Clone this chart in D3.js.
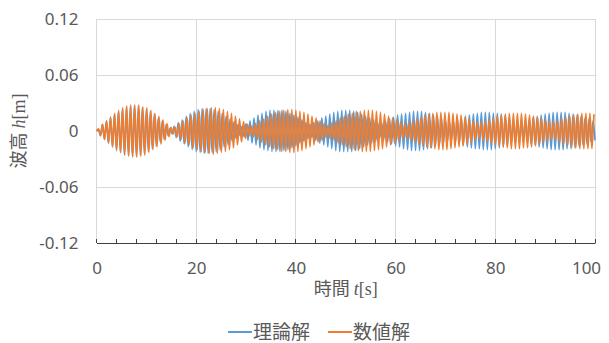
<!DOCTYPE html>
<html>
<head>
<meta charset="utf-8">
<script src="https://cdn.jsdelivr.net/npm/d3@7/dist/d3.min.js"></script>
<style>
  body { margin: 0; background: #fff; }
  svg { display: block; }
</style>
</head>
<body>
<svg id="chart" width="609" height="343"></svg>
<script>
// Wave height h [m] at successive crests and troughs (starting from rest at t = 0)
const seriesNames = ["理論解", "数値解"];
const seriesColors = ["#5B9BD5", "#ED7D31"];

// time between successive extremes [s]
const theoryStep = 0.4;
const numericStep = 0.404;

// 理論解 (theoretical solution)
const theoryH = [0,
  .002,-.005,.007,-.009,.011,-.013,.015,-.017,.018,-.020,.021,-.023,.024,-.025,.026,-.026,.027,-.027,.027,-.027,.027,-.026,.025,-.024,.023,-.022,.021,-.019,.018,-.016,.014,-.012,.011,-.009,.007,-.005,.003,
  -.003,.005,-.007,.009,-.011,.012,-.014,.016,-.017,.019,-.020,.021,-.022,.023,-.023,.024,-.024,.024,-.024,.024,-.023,.023,-.022,.021,-.020,.019,-.017,.016,-.015,.013,-.011,.010,-.008,.007,-.005,
  .005,-.006,.008,-.010,.011,-.013,.014,-.015,.017,-.018,.019,-.020,.021,-.021,.022,-.022,.022,-.022,.022,-.022,.022,-.021,.021,-.020,.019,-.018,.017,-.016,.015,-.013,.012,-.011,.009,-.008,.007,
  -.007,.009,-.010,.011,-.013,.014,-.015,.016,-.017,.018,-.019,.020,-.021,.021,-.022,.022,-.022,.022,-.022,.022,-.022,.021,-.021,.020,-.019,.018,-.017,.016,-.015,.014,-.013,.012,-.011,.009,-.008,
  .009,-.010,.011,-.012,.013,-.014,.015,-.016,.017,-.017,.018,-.019,.019,-.020,.020,-.021,.021,-.021,.021,-.021,.021,-.020,.020,-.019,.019,-.018,.017,-.016,.016,-.015,.014,-.013,.012,-.011,.010,
  -.010,.011,-.012,.013,-.013,.014,-.015,.016,-.017,.017,-.018,.018,-.019,.019,-.019,.020,-.020,.020,-.020,.020,-.020,.019,-.019,.019,-.018,.018,-.017,.017,-.016,.015,-.014,.013,-.013,.012,-.011,.010,
  -.010,.011,-.012,.013,-.014,.015,-.015,.016,-.017,.017,-.018,.018,-.019,.019,-.020,.020,-.020,.020,-.020,.020,-.020,.020,-.019,.019,-.019,.018,-.018,.017,-.016,.016,-.015,.014,-.014,.013,-.012,.011,-.010
];

// 数値解 (numerical solution)
const numericH = [0,
  .002,-.005,.007,-.009,.011,-.013,.015,-.017,.019,-.021,.022,-.023,.025,-.026,.027,-.027,.028,-.028,.028,-.028,.028,-.027,.026,-.026,.025,-.023,.022,-.020,.019,-.017,.016,-.014,.012,-.010,.008,-.006,.004,
  -.003,.004,-.006,.008,-.009,.011,-.013,.014,-.015,.017,-.018,.019,-.020,.021,-.022,.023,-.023,.024,-.024,.025,-.025,.025,-.024,.024,-.023,.023,-.022,.021,-.020,.019,-.018,.016,-.015,.013,-.012,.010,-.008,.007,-.005,
  .005,-.006,.008,-.009,.011,-.012,.013,-.015,.016,-.017,.018,-.019,.020,-.020,.021,-.022,.022,-.022,.023,-.023,.023,-.023,.022,-.022,.021,-.021,.020,-.019,.018,-.017,.016,-.015,.014,-.012,.011,-.010,.008,-.007,.006,
  -.008,.009,-.010,.011,-.013,.014,-.015,.016,-.017,.018,-.019,.019,-.020,.021,-.021,.021,-.022,.022,-.022,.022,-.022,.022,-.021,.021,-.020,.020,-.019,.018,-.017,.016,-.015,.014,-.013,.012,-.011,.010,-.008,.007,
  -.008,.009,-.010,.011,-.012,.013,-.014,.015,-.016,.017,-.017,.018,-.018,.019,-.019,.020,-.020,.020,-.020,.020,-.020,.020,-.019,.019,-.018,.018,-.017,.017,-.016,.015,-.014,.013,-.012,.011,-.010,.009,-.008,
  .009,-.010,.011,-.012,.012,-.013,.014,-.015,.016,-.016,.017,-.017,.018,-.018,.019,-.019,.019,-.019,.019,-.019,.019,-.018,.018,-.018,.017,-.017,.016,-.016,.015,-.014,.013,-.012,.012,-.011,.010,-.009,
  .010,-.010,.011,-.012,.013,-.014,.015,-.015,.016,-.017,.017,-.018,.018,-.019,.019,-.019,.019,-.019,.019,-.019,.018
];

const xTicks = [0, 20, 40, 60, 80, 100];
const xMinorTicks = d3.range(0, 101, 4);
const yTicks = [-0.12, -0.06, 0, 0.06, 0.12];
const yTickLabels = ["-0.12", "-0.06", "0", "0.06", "0.12"];

const svg = d3.select("#chart");
const textColor = "#595959";
const numFont = "'Noto Sans', 'Liberation Sans', sans-serif";
const cjkFont = "'Noto Sans CJK JP', sans-serif";
const serifFont = "'Liberation Serif', 'DejaVu Serif', serif";

const x = d3.scaleLinear().domain([0, 100]).range([96.5, 595]);
const y = d3.scaleLinear().domain([-0.12, 0.12]).range([243, 19]);

// gridlines
svg.append("g")
  .attr("shape-rendering", "crispEdges")
  .selectAll("line").data(yTicks.filter(v => v > -0.12)).join("line")
  .attr("x1", x(0)).attr("x2", x(100))
  .attr("y1", d => y(d)).attr("y2", d => y(d))
  .attr("stroke", "#D9D9D9").attr("stroke-width", 1);
svg.append("g")
  .attr("shape-rendering", "crispEdges")
  .selectAll("line").data(xTicks).join("line")
  .attr("x1", d => x(d)).attr("x2", d => x(d))
  .attr("y1", y(0.12)).attr("y2", y(-0.12))
  .attr("stroke", "#D9D9D9").attr("stroke-width", 1);

// series
const line = d3.line()
  .x(d => x(d[0]))
  .y(d => y(d[1]))
  .curve(d3.curveMonotoneX);

const series = [
  theoryH.map((h, i) => [i * theoryStep, h]),
  numericH.map((h, i) => [i * numericStep, h])
];

svg.append("g").selectAll("path").data(series).join("path")
  .attr("d", line)
  .attr("fill", "none")
  .attr("stroke", (d, i) => seriesColors[i])
  .attr("stroke-width", 1.7)
  .attr("stroke-linejoin", "round");

// x axis
const xAxis = svg.append("g")
  .attr("transform", `translate(0,${y(-0.12)})`)
  .call(d3.axisBottom(x).tickValues(xTicks).tickSize(0).tickPadding(19).tickFormat(d3.format("d")));
xAxis.select(".domain").attr("stroke", "#404040").attr("stroke-width", 1);
xAxis.selectAll("text")
  .attr("fill", textColor)
  .style("font-family", numFont)
  .style("font-size", "17px")
  .attr("dx", d => d === 100 ? -9 : 0);

svg.append("g")
  .attr("shape-rendering", "crispEdges")
  .selectAll("line").data(xMinorTicks).join("line")
  .attr("x1", d => x(d)).attr("x2", d => x(d))
  .attr("y1", y(-0.12) - 4).attr("y2", y(-0.12))
  .attr("stroke", "#404040");

// y axis labels
const yAxis = svg.append("g")
  .attr("transform", `translate(${x(0)},0)`)
  .call(d3.axisLeft(y).tickValues(yTicks).tickSize(0).tickPadding(18)
    .tickFormat((d, i) => yTickLabels[i]));
yAxis.select(".domain").remove();
yAxis.selectAll("text")
  .attr("fill", textColor)
  .style("font-family", numFont)
  .style("font-size", "17px");

// axis titles
const xTitle = svg.append("text")
  .attr("x", (x(0) + x(100)) / 2).attr("y", 295)
  .attr("text-anchor", "middle")
  .attr("fill", textColor)
  .style("font-size", "18px");
xTitle.append("tspan").style("font-family", cjkFont).text("時間 ");
xTitle.append("tspan").style("font-family", serifFont).style("font-style", "italic").text("t");
xTitle.append("tspan").style("font-family", serifFont).text("[s]");

const yTitle = svg.append("text")
  .attr("transform", `translate(25,${(y(0.12) + y(-0.12)) / 2}) rotate(-90)`)
  .attr("text-anchor", "middle")
  .attr("fill", textColor)
  .style("font-size", "18px");
yTitle.append("tspan").style("font-family", cjkFont).text("波高 ");
yTitle.append("tspan").style("font-family", serifFont).style("font-style", "italic").text("h");
yTitle.append("tspan").style("font-family", serifFont).text("[m]");

// legend
const legendX = [228, 328];
const legend = svg.append("g").selectAll("g").data(seriesNames).join("g")
  .attr("transform", (d, i) => `translate(${legendX[i]},332)`);
legend.append("line")
  .attr("x1", 0).attr("x2", 24).attr("y1", 0).attr("y2", 0)
  .attr("stroke", (d, i) => seriesColors[i]).attr("stroke-width", 2);
legend.append("text")
  .attr("x", 25).attr("y", 0).attr("dy", "0.36em")
  .attr("fill", textColor)
  .style("font-family", cjkFont)
  .style("font-size", "19px")
  .text(d => d);
</script>
</body>
</html>
